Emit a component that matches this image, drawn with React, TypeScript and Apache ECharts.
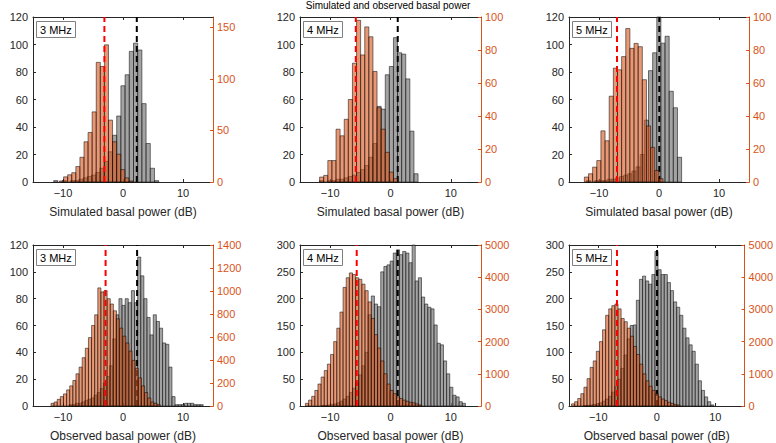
import React, { useEffect, useRef } from 'react';
import * as echarts from 'echarts';

// ---------- data ----------
const xTicks = [-10, 0, 10];
const ticks120 = [0, 20, 40, 60, 80, 100, 120];
const ticks160 = [0, 50, 100, 150];
const ticks100 = [0, 20, 40, 60, 80, 100];
const ticks1400 = [0, 200, 400, 600, 800, 1000, 1200, 1400];
const ticks300 = [0, 50, 100, 150, 200, 250, 300];
const ticks5000 = [0, 1000, 2000, 3000, 4000, 5000];

const panelLabels = ['3 MHz', '4 MHz', '5 MHz', '3 MHz', '4 MHz', '5 MHz'];
const xNames = ['Simulated basal power (dB)', 'Observed basal power (dB)'];
const figureTitle = 'Simulated and observed basal power';

// Panel 1: 3 MHz simulated
const p1GrayStart = -11.55;
const p1GrayWidth = 0.7;
const p1GrayCounts = [1, 0, 1, 0, 1, 1, 2, 3, 4, 5, 7, 10, 15, 22, 34, 48, 70, 78, 95, 101, 96, 57, 28, 10, 1];
const p1OrangeStart = -10.58;
const p1OrangeWidth = 0.68;
const p1OrangeCounts = [1, 5, 7, 9, 15, 24, 39, 48, 68, 116, 112, 133, 60, 39, 27, 12, 4, 1];
const p1Lines = { red: -3.1, black: 2.3 };

// Panel 2: 4 MHz simulated
const p2GrayStart = -11.75;
const p2GrayWidth = 0.68;
const p2GrayCounts = [1, 0, 1, 1, 2, 2, 3, 4, 5, 7, 9, 12, 18, 28, 55, 53, 78, 84, 105, 94, 93, 75, 37, 6];
const p2OrangeStart = -11.75;
const p2OrangeWidth = 0.68;
const p2OrangeCounts = [3, 4, 13, 13, 32, 28, 38, 50, 72, 98, 77, 94, 88, 67, 45, 32, 18, 6, 2];
const p2Lines = { red: -5.75, black: 1.2 };

// Panel 3: 5 MHz simulated
const p3GrayStart = -12.1;
const p3GrayWidth = 0.69;
const p3GrayCounts = [1, 0, 1, 1, 1, 2, 2, 3, 4, 5, 6, 8, 11, 20, 45, 81, 94, 120, 101, 106, 66, 54, 18];
const p3OrangeStart = -12.44;
const p3OrangeWidth = 0.69;
const p3OrangeCounts = [3, 5, 9, 13, 31, 25, 52, 69, 68, 76, 93, 81, 84, 82, 62, 34, 21, 7, 2];
const p3Lines = { red: -7.0, black: 0.05 };

// Panel 4: 3 MHz observed
const p4GrayStart = -9;
const p4GrayWidth = 0.52;
const p4GrayCounts = [1, 1, 2, 2, 3, 4, 5, 6, 8, 10, 13, 17, 22, 30, 50, 68, 80, 75, 80, 77, 86, 77, 111, 97, 80, 66, 53, 68, 63, 58, 47, 46, 29, 7, 1, 1, 1, 2, 2, 2, 1, 1, 1];
const p4OrangeStart = -12;
const p4OrangeWidth = 0.52;
const p4OrangeCounts = [23, 35, 58, 82, 105, 140, 175, 222, 280, 338, 420, 502, 595, 700, 793, 1027, 992, 1003, 933, 887, 828, 758, 677, 607, 548, 478, 397, 327, 245, 175, 117, 70, 35, 23, 12];
const p4Lines = { red: -2.9, black: 2.35 };

// Panel 5: 4 MHz observed
const p5GrayStart = -11.5;
const p5GrayWidth = 0.52;
const p5GrayCounts = [1, 1, 2, 3, 4, 6, 9, 13, 18, 25, 33, 44, 58, 75, 100, 170, 205, 190, 185, 250, 260, 263, 270, 285, 291, 282, 288, 285, 267, 300, 233, 239, 203, 190, 184, 181, 151, 117, 114, 84, 60, 35, 20, 17, 8, 5];
const p5OrangeStart = -14.1;
const p5OrangeWidth = 0.52;
const p5OrangeCounts = [83, 183, 300, 483, 683, 900, 1100, 1300, 1600, 2000, 2417, 2917, 3683, 3983, 4133, 4083, 3983, 3933, 3783, 3583, 3233, 2717, 2217, 1800, 1400, 1000, 683, 483, 383, 283, 233, 183, 150, 117, 100, 67, 33];
const p5Lines = { red: -5.6, black: 1.2 };

// Panel 6: 5 MHz observed
const p6GrayStart = -12.5;
const p6GrayWidth = 0.53;
const p6GrayCounts = [1, 1, 2, 3, 4, 6, 9, 13, 18, 26, 36, 50, 70, 95, 125, 150, 151, 197, 236, 242, 233, 227, 245, 288, 254, 245, 245, 230, 215, 194, 184, 169, 145, 127, 114, 102, 78, 47, 29, 17, 8, 2];
const p6OrangeStart = -14.57;
const p6OrangeWidth = 0.53;
const p6OrangeCounts = [67, 133, 233, 383, 583, 850, 1200, 1400, 1700, 2000, 2367, 2817, 3017, 3117, 3167, 3017, 2717, 2617, 2417, 2167, 1850, 1600, 1300, 1000, 783, 617, 483, 383, 283, 217, 167, 117, 83, 50, 33];
const p6Lines = { red: -6.8, black: 0.05 };

// ---------- assembly ----------
const panels = [
  { gray: [p1GrayStart, p1GrayWidth, p1GrayCounts], orange: [p1OrangeStart, p1OrangeWidth, p1OrangeCounts], lines: p1Lines, left: ticks120, right: ticks160, rightMax: 160, row: 0 },
  { gray: [p2GrayStart, p2GrayWidth, p2GrayCounts], orange: [p2OrangeStart, p2OrangeWidth, p2OrangeCounts], lines: p2Lines, left: ticks120, right: ticks100, rightMax: 100, row: 0 },
  { gray: [p3GrayStart, p3GrayWidth, p3GrayCounts], orange: [p3OrangeStart, p3OrangeWidth, p3OrangeCounts], lines: p3Lines, left: ticks120, right: ticks100, rightMax: 100, row: 0 },
  { gray: [p4GrayStart, p4GrayWidth, p4GrayCounts], orange: [p4OrangeStart, p4OrangeWidth, p4OrangeCounts], lines: p4Lines, left: ticks120, right: ticks1400, rightMax: 1400, row: 1 },
  { gray: [p5GrayStart, p5GrayWidth, p5GrayCounts], orange: [p5OrangeStart, p5OrangeWidth, p5OrangeCounts], lines: p5Lines, left: ticks300, right: ticks5000, rightMax: 5000, row: 1 },
  { gray: [p6GrayStart, p6GrayWidth, p6GrayCounts], orange: [p6OrangeStart, p6OrangeWidth, p6OrangeCounts], lines: p6Lines, left: ticks300, right: ticks5000, rightMax: 5000, row: 1 },
];

const colLeft = [33, 300, 569];
const colWidth = [180, 181, 180];
const rowTop = [17, 245];
const rowHeight = [165, 164];

const FONT = 'Liberation Sans, Arial, Helvetica, sans-serif';
const AX = '#262626';
const ORANGE = '#D95319';
const GRAY_FILL = 'rgba(128,128,128,0.72)';
const ORANGE_FILL = 'rgba(217,83,25,0.6)';

function binData(start: number, width: number, counts: number[]) {
  const out: number[][] = [];
  counts.forEach((c, k) => {
    if (c > 0) out.push([start + k * width, start + (k + 1) * width, c]);
  });
  return out;
}

function histRender(fill: string) {
  return (params: any, api: any) => {
    const x0 = api.value(0);
    const x1 = api.value(1);
    const y = api.value(2);
    const p0 = api.coord([x0, y]);
    const p1 = api.coord([x1, 0]);
    return {
      type: 'rect',
      shape: { x: p0[0], y: p0[1], width: p1[0] - p0[0], height: p1[1] - p0[1] },
      style: { fill, stroke: 'rgba(0,0,0,0.85)', lineWidth: 0.6 },
    };
  };
}

function buildOption() {
  const grid: any[] = [];
  const xAxis: any[] = [];
  const yAxis: any[] = [];
  const series: any[] = [];
  const title: any[] = [];

  panels.forEach((p, i) => {
    const col = i % 3;
    const left = colLeft[col];
    const top = rowTop[p.row];
    const width = colWidth[col];
    const height = rowHeight[p.row];
    grid.push({ left, top, width, height, containLabel: false });

    const leftMax = p.left[p.left.length - 1];

    xAxis.push({
      type: 'value', gridIndex: i, min: -15, max: 15, position: 'bottom',
      name: xNames[p.row], nameLocation: 'middle', nameGap: 24,
      nameTextStyle: { fontFamily: FONT, fontSize: 12, color: AX },
      axisLine: { show: true, onZero: false, lineStyle: { color: AX, width: 1 } },
      axisTick: { show: true, inside: true, length: 3, customValues: xTicks, lineStyle: { color: AX } },
      axisLabel: { show: true, customValues: xTicks, fontFamily: FONT, fontSize: 11, color: AX, margin: 5,
        formatter: (v: number) => (v < 0 ? '\u2212' + Math.abs(v) : String(v)) },
      splitLine: { show: false },
    });
    xAxis.push({
      type: 'value', gridIndex: i, min: -15, max: 15, position: 'top',
      axisLine: { show: true, onZero: false, lineStyle: { color: AX, width: 1 } },
      axisTick: { show: true, inside: true, length: 3, customValues: xTicks, lineStyle: { color: AX } },
      axisLabel: { show: false },
      splitLine: { show: false },
    });
    yAxis.push({
      type: 'value', gridIndex: i, min: 0, max: leftMax, position: 'left',
      axisLine: { show: true, onZero: false, lineStyle: { color: AX, width: 1 } },
      axisTick: { show: true, inside: true, length: 3, customValues: p.left, lineStyle: { color: AX } },
      axisLabel: { show: true, customValues: p.left, fontFamily: FONT, fontSize: 11, color: AX, margin: 5,
        formatter: (v: number) => String(v) },
      splitLine: { show: false },
    });
    yAxis.push({
      type: 'value', gridIndex: i, min: 0, max: p.rightMax, position: 'right',
      axisLine: { show: true, onZero: false, lineStyle: { color: ORANGE, width: 1 } },
      axisTick: { show: true, inside: true, length: 3, customValues: p.right, lineStyle: { color: ORANGE } },
      axisLabel: { show: true, customValues: p.right, fontFamily: FONT, fontSize: 11, color: ORANGE, margin: 4,
        formatter: (v: number) => String(v) },
      splitLine: { show: false },
    });

    const [gs, gw, gc] = p.gray as [number, number, number[]];
    const [os, ow, oc] = p.orange as [number, number, number[]];

    series.push({
      type: 'custom', xAxisIndex: 2 * i, yAxisIndex: 2 * i, z: 2,
      renderItem: histRender(GRAY_FILL), encode: { x: [0, 1], y: 2 },
      data: binData(gs, gw, gc), silent: true,
    });
    series.push({
      type: 'line', xAxisIndex: 2 * i, yAxisIndex: 2 * i, z: 3, symbol: 'none',
      data: [[p.lines.black, 0], [p.lines.black, leftMax]],
      lineStyle: { color: '#000', width: 2, type: [6, 4] }, silent: true,
    });
    series.push({
      type: 'custom', xAxisIndex: 2 * i, yAxisIndex: 2 * i + 1, z: 4,
      renderItem: histRender(ORANGE_FILL), encode: { x: [0, 1], y: 2 },
      data: binData(os, ow, oc), silent: true,
    });
    series.push({
      type: 'line', xAxisIndex: 2 * i, yAxisIndex: 2 * i + 1, z: 5, symbol: 'none',
      data: [[p.lines.red, 0], [p.lines.red, p.rightMax]],
      lineStyle: { color: '#FF0000', width: 2, type: [6, 4] }, silent: true,
    });

    title.push({
      text: panelLabels[i], left: left + 3, top: top + 4,
      textStyle: { fontFamily: FONT, fontSize: 11, fontWeight: 'normal', color: '#000' },
      borderColor: '#808080', borderWidth: 1, padding: [3, 4], backgroundColor: '#fff',
    });
  });

  title.push({
    text: figureTitle, left: 'center', top: 0, padding: 0,
    textStyle: { fontFamily: FONT, fontSize: 10, fontWeight: 'normal', color: '#000' },
  });

  return { animation: false, backgroundColor: '#fff', grid, xAxis, yAxis, series, title };
}

export default function App() {
  const ref = useRef<HTMLDivElement>(null);
  useEffect(() => {
    if (!ref.current) return;
    const chart = echarts.init(ref.current, undefined, { renderer: 'svg' });
    chart.setOption(buildOption() as any);
    return () => chart.dispose();
  }, []);
  return <div ref={ref} style={{ position: 'fixed', left: 0, top: 0, width: 776, height: 443 }} />;
}
